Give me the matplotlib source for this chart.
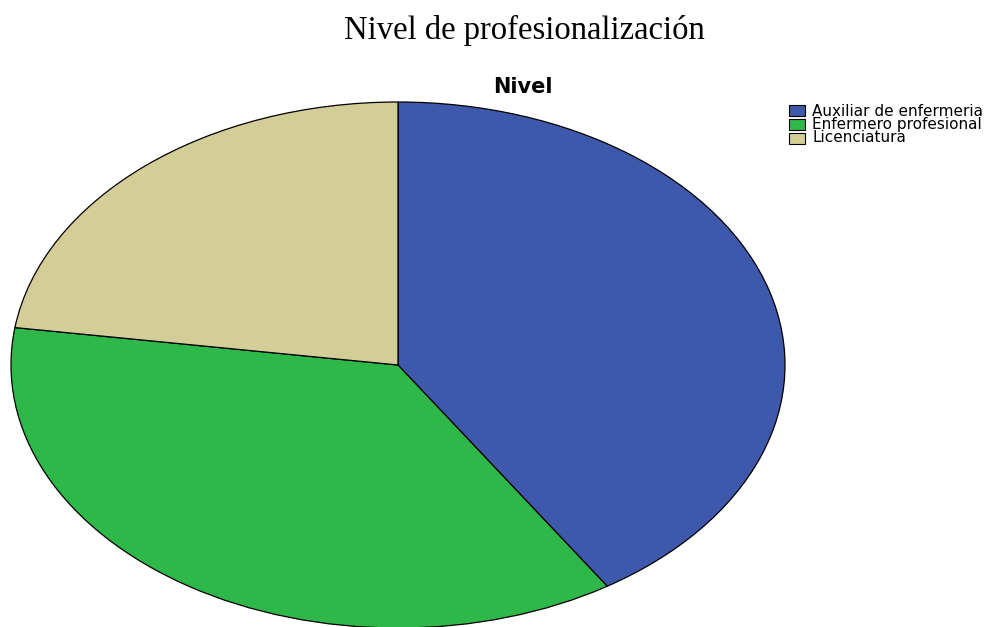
import matplotlib.pyplot as plt
from matplotlib.patches import Rectangle

labels = ['Auxiliar de enfermeria', 'Enfermero profesional', 'Licenciatura']
counts = [18, 16, 10]
colors = ['#3E58AC', '#2EB849', '#D3CE97']

W, H = 994, 627
fig = plt.figure(figsize=(W / 100, H / 100), dpi=100)

# elliptical pie like the SPSS output
ax = fig.add_axes([11 / W, -1 / H, 774 / W, 526 / H])
ax.pie(counts, colors=colors, startangle=90, counterclock=False,
       wedgeprops=dict(edgecolor='black', linewidth=0.9))
ax.set_aspect('auto')
ax.set_xlim(-1, 1)
ax.set_ylim(-1, 1)
ax.axis('off')

fig.text(524 / W, 1 - 30 / H, 'Nivel de profesionalización',
         ha='center', va='center', fontsize=23.5, family='Liberation Serif')
fig.text(523 / W, 1 - 87 / H, 'Nivel', ha='center', va='center',
         fontsize=15, fontweight='bold', family='DejaVu Sans')

# legend drawn by hand (tight rows like the original)
for i, (lab, c) in enumerate(zip(labels, colors)):
    yc = 111 + i * 13.5
    fig.add_artist(Rectangle((789 / W, 1 - (yc + 5.5) / H), 16 / W, 11 / H,
                             transform=fig.transFigure, facecolor=c,
                             edgecolor='black', linewidth=0.8))
    fig.text(812 / W, 1 - (yc + 4.5) / H, lab, ha='left', va='baseline',
             fontsize=11, family='DejaVu Sans')

fig.savefig('out.png', dpi=100)
